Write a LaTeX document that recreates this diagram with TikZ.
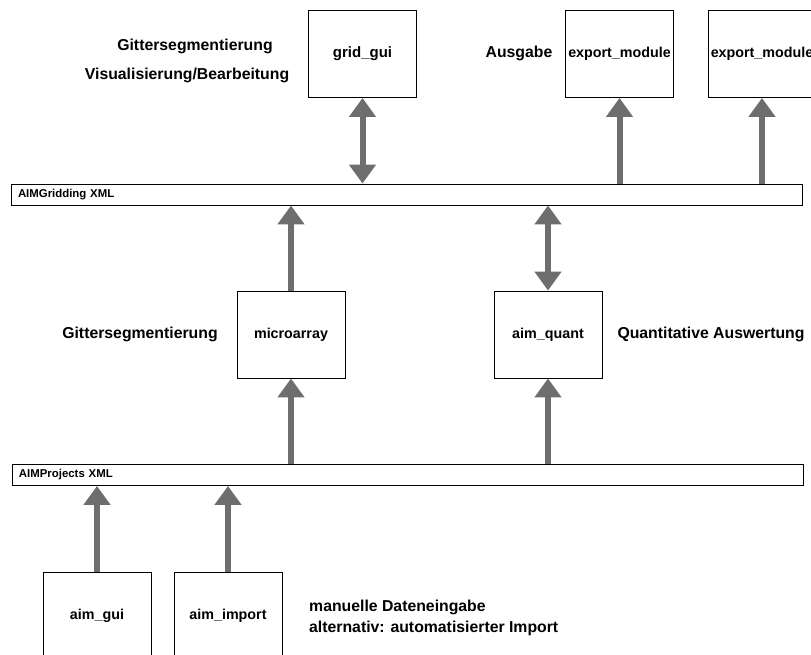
\documentclass[tikz,border=0pt]{standalone}
\usepackage{fontspec}
\setmainfont{Liberation Sans}
\usetikzlibrary{arrows.meta}
\definecolor{arrowgray}{RGB}{110,110,110}

\begin{document}
\begin{tikzpicture}[x=1pt, y=-1pt,
    module/.style={draw, line width=0.9pt, minimum width=108pt, minimum height=87pt,
        inner sep=0pt, font=\fontsize{14.3}{16}\selectfont\bfseries},
    xmlbar/.style={draw, line width=0.9pt, minimum height=21pt, text width=777pt,
        inner xsep=7pt, inner ysep=0pt, align=left, font=\fontsize{11.4}{13}\selectfont\bfseries},
    caption/.style={font=\fontsize{15.8}{21}\selectfont\bfseries, inner sep=0pt},
    flow/.style={line width=6pt, arrowgray, -{Triangle[width=26pt, length=19pt]}},
    bothflow/.style={flow, {Triangle[width=26pt, length=19pt]}-{Triangle[width=26pt, length=19pt]}}]
    \useasboundingbox (0,0) rectangle (811,654);

    % XML files
    \node[xmlbar] (gridxml) at (406.5,194.5) {AIMGridding XML};
    \node[xmlbar] (projxml) at (407.5,475) {AIMProjects XML};

    % Modules
    \node[module, font=\fontsize{15}{17}\selectfont\bfseries] (gridgui) at (362.5,54) {grid\_gui};
    \node[module] (export1) at (619.5,54) {export\_module};
    \node[module] (export2) at (762,54) {export\_module};
    \node[module] (micro) at (291,334.5) {microarray};
    \node[module] (quant) at (548,334.5) {aim\_quant};
    \node[module] (aimgui) at (97,615.5) {aim\_gui};
    \node[module] (aimimport) at (228,615.5) {aim\_import};

    % Data flow
    \draw[bothflow] (gridgui.south) -- (gridgui.south |- gridxml.north);
    \foreach \m in {export1, export2}
        \draw[flow] (\m.south |- gridxml.north) -- (\m.south);
    \draw[flow] (micro.north) -- (micro.north |- gridxml.south);
    \draw[bothflow] (quant.north) -- (quant.north |- gridxml.south);
    \foreach \m in {micro, quant}
        \draw[flow] (\m.south |- projxml.north) -- (\m.south);
    \foreach \m in {aimgui, aimimport}
        \draw[flow] (\m.north) -- (\m.north |- projxml.south);

    % Labels
    \node[caption] (gridseg) at (195,46) {Gittersegmentierung};
    \node[caption] (gridvis) at (187,75) {Visualisierung/Bearbeitung};
    \node[caption] (output) at (519,53) {Ausgabe};
    \node[caption] (microseg) at (140,334) {Gittersegmentierung};
    \node[caption] (quantlabel) at (711,334) {Quantitative Auswertung};
    \node[caption, anchor=west, align=left] (input) at (309,617.5)
        {manuelle Dateneingabe\\alternativ: automatisierter Import};
\end{tikzpicture}
\end{document}
